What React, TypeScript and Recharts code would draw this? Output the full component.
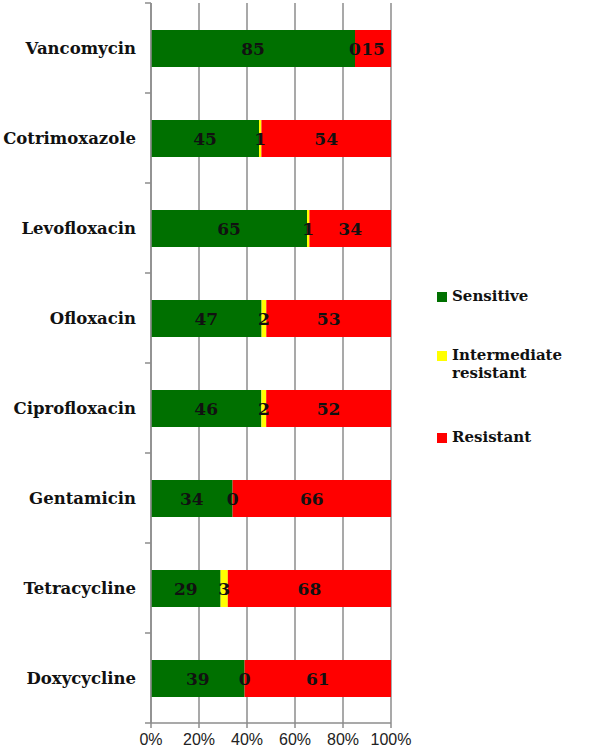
import React from 'react';
import {
  BarChart,
  Bar,
  XAxis,
  YAxis,
  CartesianGrid,
  LabelList,
} from 'recharts';

const drugs = [
  'Vancomycin',
  'Cotrimoxazole',
  'Levofloxacin',
  'Ofloxacin',
  'Ciprofloxacin',
  'Gentamicin',
  'Tetracycline',
  'Doxycycline',
];
const sensitive = [85, 45, 65, 47, 46, 34, 29, 39];
const intermediate = [0, 1, 1, 2, 2, 0, 3, 0];
const resistant = [15, 54, 34, 53, 52, 66, 68, 61];
const xTicks = [0, 0.2, 0.4, 0.6, 0.8, 1];

const series = [
  { key: 'sensitive', name: 'Sensitive', color: '#007000' },
  { key: 'intermediate', name: 'Intermediate resistant', color: '#ffff00' },
  { key: 'resistant', name: 'Resistant', color: '#ff0000' },
];

const data = drugs.map((drug, i) => ({
  drug,
  sensitive: sensitive[i],
  intermediate: intermediate[i],
  resistant: resistant[i],
}));

const serif = '"DejaVu Serif", serif';
const axisGray = '#8c8c8c';

function DrugTick(props: any) {
  const { x, y, payload, index } = props;
  const band = 90;
  return (
    <g>
      <line x1={x + 2} x2={x + 8} y1={y - band / 2} y2={y - band / 2} stroke={axisGray} strokeWidth={1.5} />
      {index === drugs.length - 1 && (
        <line x1={x + 2} x2={x + 8} y1={y + band / 2} y2={y + band / 2} stroke={axisGray} strokeWidth={1.5} />
      )}
      <text
        x={x - 7}
        y={y}
        dy={6}
        textAnchor="end"
        fontFamily={serif}
        fontWeight="bold"
        fontSize={16.5}
        fill="#111"
      >
        {payload.value}
      </text>
    </g>
  );
}

// intermediate labels are drawn from the sensitive segment so zero values still show
function IntermediateLabel(props: any) {
  const { x, y, width, height, index } = props;
  const mid = width * (intermediate[index] / sensitive[index]);
  return (
    <text
      x={x + width + mid / 2}
      y={y + height / 2}
      dy={6}
      textAnchor="middle"
      fontFamily={serif}
      fontWeight="bold"
      fontSize={17}
      fill="#111"
    >
      {intermediate[index]}
    </text>
  );
}

function LegendBox() {
  const rows = [
    { color: series[0].color, lines: ['Sensitive'], top: 0 },
    { color: series[1].color, lines: ['Intermediate', 'resistant'], top: 59 },
    { color: series[2].color, lines: ['Resistant'], top: 141 },
  ];
  return (
    <div style={{ position: 'absolute', left: 437, top: 287, width: 160, height: 170 }}>
      {rows.map((r) => (
        <div key={r.lines[0]} style={{ position: 'absolute', left: 0, top: r.top, display: 'flex' }}>
          <div style={{ width: 10, height: 10, background: r.color, marginTop: 5, marginRight: 5 }} />
          <div
            style={{
              fontFamily: serif,
              fontWeight: 'bold',
              fontSize: 15,
              lineHeight: '18px',
              color: '#111',
            }}
          >
            {r.lines.map((l) => (
              <div key={l}>{l}</div>
            ))}
          </div>
        </div>
      ))}
    </div>
  );
}

export default function App() {
  return (
    <div style={{ position: 'absolute', left: 0, top: 0, width: 600, height: 750, background: '#fff' }}>
      <BarChart
        width={600}
        height={750}
        data={data}
        layout="vertical"
        stackOffset="expand"
        margin={{ top: 3, right: 209, bottom: 0, left: 0 }}
        barSize={37}
      >
        <CartesianGrid horizontal={false} stroke={axisGray} strokeWidth={1.5} />
        <XAxis
          type="number"
          domain={[0, 1]}
          ticks={xTicks}
          tickFormatter={(v: number) => `${Math.round(v * 100)}%`}
          height={27}
          stroke={axisGray}
          strokeWidth={1.5}
          tickSize={5}
          tickMargin={6}
          tick={{ fill: '#222', fontFamily: '"Liberation Sans", Arial, sans-serif', fontSize: 16 }}
          interval={0}
        />
        <YAxis
          type="category"
          dataKey="drug"
          width={151}
          stroke={axisGray}
          strokeWidth={1.5}
          tickLine={false}
          tick={<DrugTick />}
          interval={0}
        />
        <Bar dataKey="sensitive" name="Sensitive" stackId="a" fill={series[0].color} isAnimationActive={false}>
          <LabelList dataKey="sensitive" position="center" fill="#111" fontFamily={serif} fontWeight="bold" fontSize={17} />
          <LabelList dataKey="intermediate" content={<IntermediateLabel />} />
        </Bar>
        <Bar dataKey="intermediate" name="Intermediate resistant" stackId="a" fill={series[1].color} isAnimationActive={false} />
        <Bar dataKey="resistant" name="Resistant" stackId="a" fill={series[2].color} isAnimationActive={false}>
          <LabelList dataKey="resistant" position="center" fill="#111" fontFamily={serif} fontWeight="bold" fontSize={17} />
        </Bar>
      </BarChart>
      <LegendBox />
    </div>
  );
}
